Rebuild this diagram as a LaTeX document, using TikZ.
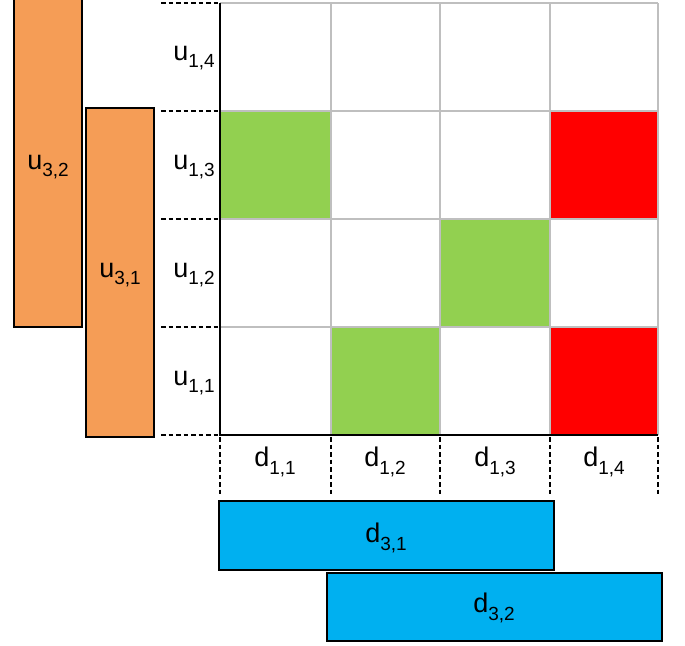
\documentclass[tikz,border=0pt]{standalone}
\usepackage{fontspec}
\setmainfont{Liberation Sans}
\newcommand{\lbl}[2]{#1\raisebox{-0.28em}{\fontsize{19}{19}\selectfont #2}}
\definecolor{orangeF}{HTML}{F59D56}
\definecolor{blueF}{HTML}{00B0F0}
\definecolor{greenF}{HTML}{92D050}
\definecolor{redF}{HTML}{FF0000}
\definecolor{gridG}{HTML}{BFBFBF}
\begin{document}
\begin{tikzpicture}[x=1pt,y=-1pt,
  txt/.style={font=\fontsize{27}{27}\selectfont, inner sep=0pt},
  obox/.style={draw=black, line width=1.3pt, fill=orangeF},
  bbox/.style={draw=black, line width=1.3pt, fill=blueF},
  gcell/.style={fill=greenF},
  rcell/.style={fill=redF},
  gridline/.style={draw=gridG, line width=1.6pt},
  axisline/.style={draw=black, line width=1.8pt},
  dashl/.style={draw=black, line width=2.6pt, dash pattern=on 4.5pt off 3pt}]
\useasboundingbox (0,0) rectangle (685,645);
% colored cells
\fill[gcell] (220,111) rectangle (331,219);
\fill[gcell] (331,327) rectangle (440,435);
\fill[gcell] (440,219) rectangle (550,327);
\fill[rcell] (550,111) rectangle (658,219);
\fill[rcell] (550,327) rectangle (658,435);
% grid
\foreach \xx in {220,331,440,550,658} \draw[gridline] (\xx,3) -- (\xx,435);
\foreach \yy in {3,111,219,327,435} \draw[gridline] (220,\yy) -- (658,\yy);
% axes
\draw[axisline] (220,3) -- (220,436);
\draw[axisline] (219,435) -- (658,435);
% dashed row ticks
\foreach \yy in {3,111,219,327,435} \draw[dashl] (161,\yy) -- (218,\yy);
% dotted column ticks
\foreach \xx in {220,331,440,550,658} \draw[dashl] (\xx,437) -- (\xx,495);
% orange boxes
\draw[obox] (14,-5) rectangle (82,327);
\draw[obox] (86,108) rectangle (154,437);
\node[txt] (u32) at (48,167) {\lbl{u}{3,2}};
\node[txt] (u31) at (120,275) {\lbl{u}{3,1}};
% blue boxes
\draw[bbox] (219,501) rectangle (554,570);
\draw[bbox] (327,573) rectangle (662,641);
\node[txt] (d31) at (386,538) {\lbl{d}{3,1}};
\node[txt] (d32) at (494,608) {\lbl{d}{3,2}};
% row labels
\node[txt] (u14) at (194,58) {\lbl{u}{1,4}};
\node[txt] (u13) at (194,167) {\lbl{u}{1,3}};
\node[txt] (u12) at (194,275) {\lbl{u}{1,2}};
\node[txt] (u11) at (194,383) {\lbl{u}{1,1}};
% column labels
\node[txt] (d11) at (275,462) {\lbl{d}{1,1}};
\node[txt] (d12) at (385,462) {\lbl{d}{1,2}};
\node[txt] (d13) at (495,462) {\lbl{d}{1,3}};
\node[txt] (d14) at (604,462) {\lbl{d}{1,4}};
\end{tikzpicture}
\end{document}
